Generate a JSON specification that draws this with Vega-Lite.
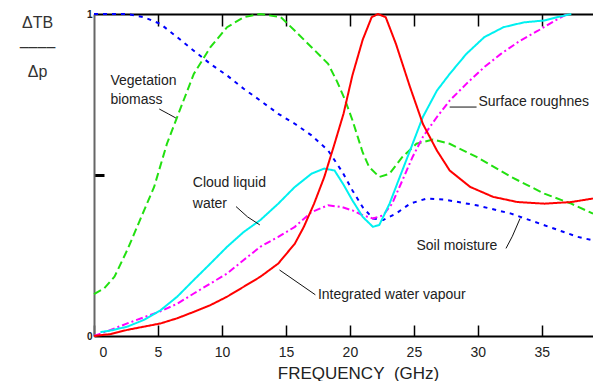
{
  "$schema": "https://vega.github.io/schema/vega-lite/v6.json",
  "autosize": {"type": "none"},
  "padding": {"left": 94, "top": 14, "right": 0, "bottom": 45},
  "width": 499,
  "height": 322,
  "background": "white",
  "config": {"view": {"stroke": null}, "axis": {"grid": false}},
  "datasets": {
    "curves": [
      {"series": "veg", "f": 0, "v": 0.13}, {"series": "veg", "f": 0.8, "v": 0.148}, {"series": "veg", "f": 1.6, "v": 0.184}, {"series": "veg", "f": 2.6, "v": 0.267}, {"series": "veg", "f": 3.7, "v": 0.37}, {"series": "veg", "f": 4.7, "v": 0.463}, {"series": "veg", "f": 5.7, "v": 0.597}, {"series": "veg", "f": 6.5, "v": 0.68}, {"series": "veg", "f": 7.8, "v": 0.814}, {"series": "veg", "f": 9.1, "v": 0.897}, {"series": "veg", "f": 10.4, "v": 0.959}, {"series": "veg", "f": 11.7, "v": 0.99}, {"series": "veg", "f": 13.0, "v": 1.0}, {"series": "veg", "f": 14.6, "v": 0.99}, {"series": "veg", "f": 15.7, "v": 0.948}, {"series": "veg", "f": 17.0, "v": 0.897}, {"series": "veg", "f": 18.3, "v": 0.845}, {"series": "veg", "f": 19.0, "v": 0.79}, {"series": "veg", "f": 19.6, "v": 0.735}, {"series": "veg", "f": 20.2, "v": 0.67}, {"series": "veg", "f": 20.6, "v": 0.62}, {"series": "veg", "f": 21.0, "v": 0.57}, {"series": "veg", "f": 21.5, "v": 0.525}, {"series": "veg", "f": 22.3, "v": 0.494}, {"series": "veg", "f": 23.1, "v": 0.504}, {"series": "veg", "f": 24.1, "v": 0.556}, {"series": "veg", "f": 25.2, "v": 0.597}, {"series": "veg", "f": 26.5, "v": 0.61}, {"series": "veg", "f": 27.8, "v": 0.597}, {"series": "veg", "f": 29.9, "v": 0.556}, {"series": "veg", "f": 32.6, "v": 0.494}, {"series": "veg", "f": 35.2, "v": 0.442}, {"series": "veg", "f": 37.3, "v": 0.411}, {"series": "veg", "f": 39.0, "v": 0.38},
      {"series": "soil", "f": 0, "v": 1.0}, {"series": "soil", "f": 2.6, "v": 1.0}, {"series": "soil", "f": 3.9, "v": 0.99}, {"series": "soil", "f": 5.2, "v": 0.969}, {"series": "soil", "f": 6.5, "v": 0.928}, {"series": "soil", "f": 7.8, "v": 0.886}, {"series": "soil", "f": 9.1, "v": 0.845}, {"series": "soil", "f": 10.4, "v": 0.809}, {"series": "soil", "f": 11.7, "v": 0.768}, {"series": "soil", "f": 13.0, "v": 0.731}, {"series": "soil", "f": 14.4, "v": 0.69}, {"series": "soil", "f": 15.7, "v": 0.659}, {"series": "soil", "f": 17.0, "v": 0.623}, {"series": "soil", "f": 18.3, "v": 0.576}, {"series": "soil", "f": 19.4, "v": 0.51}, {"series": "soil", "f": 20.2, "v": 0.452}, {"series": "soil", "f": 21.0, "v": 0.4}, {"series": "soil", "f": 21.8, "v": 0.365}, {"series": "soil", "f": 22.6, "v": 0.36}, {"series": "soil", "f": 23.6, "v": 0.38}, {"series": "soil", "f": 24.7, "v": 0.411}, {"series": "soil", "f": 26.0, "v": 0.427}, {"series": "soil", "f": 27.3, "v": 0.424}, {"series": "soil", "f": 29.9, "v": 0.406}, {"series": "soil", "f": 32.6, "v": 0.38}, {"series": "soil", "f": 35.2, "v": 0.344}, {"series": "soil", "f": 37.8, "v": 0.308}, {"series": "soil", "f": 39.0, "v": 0.297},
      {"series": "surf", "f": 0, "v": 0.0}, {"series": "surf", "f": 1.3, "v": 0.019}, {"series": "surf", "f": 2.6, "v": 0.039}, {"series": "surf", "f": 3.9, "v": 0.058}, {"series": "surf", "f": 5.2, "v": 0.077}, {"series": "surf", "f": 6.5, "v": 0.1}, {"series": "surf", "f": 7.8, "v": 0.132}, {"series": "surf", "f": 9.1, "v": 0.163}, {"series": "surf", "f": 10.4, "v": 0.194}, {"series": "surf", "f": 11.7, "v": 0.236}, {"series": "surf", "f": 13.0, "v": 0.277}, {"series": "surf", "f": 14.4, "v": 0.308}, {"series": "surf", "f": 15.7, "v": 0.339}, {"series": "surf", "f": 17.0, "v": 0.385}, {"series": "surf", "f": 18.3, "v": 0.406}, {"series": "surf", "f": 19.4, "v": 0.4}, {"series": "surf", "f": 20.2, "v": 0.39}, {"series": "surf", "f": 21.0, "v": 0.375}, {"series": "surf", "f": 21.8, "v": 0.365}, {"series": "surf", "f": 22.6, "v": 0.375}, {"series": "surf", "f": 23.3, "v": 0.411}, {"series": "surf", "f": 24.1, "v": 0.483}, {"series": "surf", "f": 24.9, "v": 0.556}, {"series": "surf", "f": 25.7, "v": 0.618}, {"series": "surf", "f": 26.8, "v": 0.68}, {"series": "surf", "f": 27.8, "v": 0.731}, {"series": "surf", "f": 29.1, "v": 0.783}, {"series": "surf", "f": 30.5, "v": 0.835}, {"series": "surf", "f": 31.8, "v": 0.876}, {"series": "surf", "f": 33.3, "v": 0.917}, {"series": "surf", "f": 34.7, "v": 0.948}, {"series": "surf", "f": 36.0, "v": 0.979}, {"series": "surf", "f": 37.0, "v": 1.0},
      {"series": "cloud", "f": 0.5, "v": 0.012}, {"series": "cloud", "f": 1.3, "v": 0.017}, {"series": "cloud", "f": 2.6, "v": 0.029}, {"series": "cloud", "f": 3.9, "v": 0.05}, {"series": "cloud", "f": 5.2, "v": 0.08}, {"series": "cloud", "f": 6.5, "v": 0.122}, {"series": "cloud", "f": 7.8, "v": 0.174}, {"series": "cloud", "f": 9.1, "v": 0.225}, {"series": "cloud", "f": 10.4, "v": 0.277}, {"series": "cloud", "f": 11.7, "v": 0.323}, {"series": "cloud", "f": 13.0, "v": 0.36}, {"series": "cloud", "f": 14.4, "v": 0.411}, {"series": "cloud", "f": 15.7, "v": 0.463}, {"series": "cloud", "f": 17.0, "v": 0.504}, {"series": "cloud", "f": 18.0, "v": 0.52}, {"series": "cloud", "f": 18.8, "v": 0.514}, {"series": "cloud", "f": 19.5, "v": 0.47}, {"series": "cloud", "f": 20.2, "v": 0.421}, {"series": "cloud", "f": 21.0, "v": 0.37}, {"series": "cloud", "f": 21.8, "v": 0.339}, {"series": "cloud", "f": 22.3, "v": 0.345}, {"series": "cloud", "f": 23.1, "v": 0.411}, {"series": "cloud", "f": 23.9, "v": 0.494}, {"series": "cloud", "f": 24.7, "v": 0.576}, {"series": "cloud", "f": 25.7, "v": 0.68}, {"series": "cloud", "f": 26.8, "v": 0.762}, {"series": "cloud", "f": 27.8, "v": 0.814}, {"series": "cloud", "f": 29.1, "v": 0.876}, {"series": "cloud", "f": 30.5, "v": 0.928}, {"series": "cloud", "f": 32.0, "v": 0.959}, {"series": "cloud", "f": 33.6, "v": 0.974}, {"series": "cloud", "f": 35.2, "v": 0.98}, {"series": "cloud", "f": 36.2, "v": 0.99}, {"series": "cloud", "f": 37.3, "v": 1.0},
      {"series": "iwv", "f": 0, "v": 0.0}, {"series": "iwv", "f": 1.3, "v": 0.006}, {"series": "iwv", "f": 2.6, "v": 0.019}, {"series": "iwv", "f": 3.9, "v": 0.029}, {"series": "iwv", "f": 5.2, "v": 0.039}, {"series": "iwv", "f": 6.5, "v": 0.055}, {"series": "iwv", "f": 7.8, "v": 0.075}, {"series": "iwv", "f": 9.1, "v": 0.096}, {"series": "iwv", "f": 10.4, "v": 0.122}, {"series": "iwv", "f": 11.7, "v": 0.153}, {"series": "iwv", "f": 13.0, "v": 0.184}, {"series": "iwv", "f": 14.4, "v": 0.225}, {"series": "iwv", "f": 15.7, "v": 0.287}, {"series": "iwv", "f": 16.4, "v": 0.339}, {"series": "iwv", "f": 17.2, "v": 0.411}, {"series": "iwv", "f": 18.0, "v": 0.494}, {"series": "iwv", "f": 18.8, "v": 0.597}, {"series": "iwv", "f": 19.5, "v": 0.69}, {"series": "iwv", "f": 20.2, "v": 0.81}, {"series": "iwv", "f": 21.0, "v": 0.92}, {"series": "iwv", "f": 21.7, "v": 0.99}, {"series": "iwv", "f": 22.2, "v": 1.0}, {"series": "iwv", "f": 22.8, "v": 0.99}, {"series": "iwv", "f": 23.6, "v": 0.907}, {"series": "iwv", "f": 24.7, "v": 0.773}, {"series": "iwv", "f": 25.7, "v": 0.659}, {"series": "iwv", "f": 26.8, "v": 0.576}, {"series": "iwv", "f": 27.8, "v": 0.514}, {"series": "iwv", "f": 29.4, "v": 0.463}, {"series": "iwv", "f": 31.2, "v": 0.432}, {"series": "iwv", "f": 33.1, "v": 0.416}, {"series": "iwv", "f": 35.2, "v": 0.411}, {"series": "iwv", "f": 37.3, "v": 0.416}, {"series": "iwv", "f": 39.0, "v": 0.427}
    ],
    "pointers": [
      {"id": "veg", "f": 5.1, "v": 0.705}, {"id": "veg", "f": 5.8, "v": 0.69}, {"id": "veg", "f": 6.4, "v": 0.677},
      {"id": "surf", "f": 27.8, "v": 0.711}, {"id": "surf", "f": 29.9, "v": 0.711},
      {"id": "cloud", "f": 11.1, "v": 0.402}, {"id": "cloud", "f": 12.0, "v": 0.37}, {"id": "cloud", "f": 12.96, "v": 0.345},
      {"id": "soil", "f": 32.2, "v": 0.272}, {"id": "soil", "f": 32.7, "v": 0.31}, {"id": "soil", "f": 33.3, "v": 0.365},
      {"id": "iwv", "f": 14.5, "v": 0.205}, {"id": "iwv", "f": 17.3, "v": 0.128}
    ],
    "labels": [
      {"f": 1.28, "v": 0.792, "text": "Vegetation"},
      {"f": 1.28, "v": 0.733, "text": "biomass"},
      {"f": 30.05, "v": 0.727, "text": "Surface roughnes"},
      {"f": 7.72, "v": 0.476, "text": "Cloud liquid"},
      {"f": 7.72, "v": 0.41, "text": "water"},
      {"f": 25.2, "v": 0.278, "text": "Soil moisture"},
      {"f": 17.5, "v": 0.127, "text": "Integrated water vapour"}
    ]
  },
  "resolve": {"scale": {"x": "shared", "y": "shared"}, "axis": {"x": "independent"}},
  "layer": [
    {
      "data": {"name": "curves"},
      "mark": {"type": "line", "strokeWidth": 2},
      "encoding": {
        "x": {"field": "f", "type": "quantitative", "scale": {"domain": [0, 39], "nice": false, "zero": false},
          "axis": {"orient": "bottom", "values": [0, 5, 10, 15, 20, 25, 30, 35], "tickSize": -11, "tickColor": "#000", "tickWidth": 1.5,
            "domainColor": "#000", "domainWidth": 2, "labelFont": "Liberation Sans", "labelFontSize": 14, "labelColor": "#222",
            "labelPadding": 20, "labelFlush": false, "labelOffset": {"condition": {"test": "datum.value === 0", "value": 9}, "value": 0},
            "title": "FREQUENCY\u00a0 (GHz)", "titleFont": "Liberation Sans", "titleFontSize": 17, "titleFontWeight": "normal", "titleColor": "#222",
            "titleX": 264, "titleY": 37, "titleBaseline": "middle"}},
        "y": {"field": "v", "type": "quantitative", "scale": {"domain": [0, 1], "nice": false},
          "axis": {"values": [0, 0.5, 1], "tickSize": -10, "tickWidth": 3, "tickColor": "#000",
            "tickOpacity": {"condition": {"test": "datum.value == 0.5", "value": 1}, "value": 0},
            "domainColor": "#666", "domainWidth": 2, "labelExpr": "datum.value == 0.5 ? '' : format(datum.value, 'd')",
            "labelFont": "Liberation Sans", "labelFontSize": 10, "labelFontWeight": "bold", "labelColor": "#222", "labelPadding": 12, "labelFlush": false,
            "title": ["ΔTB", "‒‒‒‒", "Δp"], "titleAngle": 0, "titleX": -57, "titleY": 0, "titleAlign": "center", "titleBaseline": "top",
            "titleLineHeight": 24.5, "titleFont": "Liberation Sans", "titleFontSize": 16, "titleFontWeight": "normal", "titleColor": "#333"}},
        "color": {"field": "series", "type": "nominal", "legend": null,
          "scale": {"domain": ["veg", "soil", "surf", "cloud", "iwv"], "range": ["#22e010", "#0000ff", "#ff00ff", "#00f0f0", "#ff0000"]}},
        "strokeDash": {"field": "series", "type": "nominal", "legend": null,
          "scale": {"domain": ["veg", "soil", "surf", "cloud", "iwv"], "range": [[8, 4], [4, 5], [7, 3, 2, 3], [1, 0], [1, 0]]}}
      }
    },
    {
      "data": {"name": "pointers"},
      "mark": {"type": "line", "color": "#111", "strokeWidth": 1},
      "encoding": {
        "x": {"field": "f", "type": "quantitative",
          "axis": {"orient": "top", "values": [5, 10, 15, 20, 25, 30, 35], "tickSize": -12, "tickColor": "#000", "tickWidth": 1.5,
            "domainColor": "#000", "domainWidth": 2, "labels": false, "title": null}},
        "y": {"field": "v", "type": "quantitative"},
        "detail": {"field": "id", "type": "nominal"}
      }
    },
    {
      "data": {"name": "labels"},
      "mark": {"type": "text", "align": "left", "baseline": "middle", "font": "Liberation Sans", "fontSize": 14, "color": "#222"},
      "encoding": {
        "x": {"field": "f", "type": "quantitative", "axis": null},
        "y": {"field": "v", "type": "quantitative"},
        "text": {"field": "text"}
      }
    }
  ]
}
